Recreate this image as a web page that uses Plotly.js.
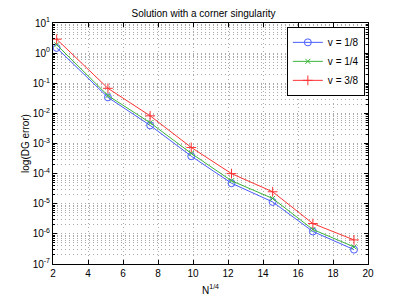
<!DOCTYPE html>
<html>
<head>
<meta charset="utf-8">
<script src="https://cdn.plot.ly/plotly-3.0.1.min.js"></script>
<style>html,body{margin:0;padding:0;background:#fff;}</style>
</head>
<body>
<div id="chart" style="width:407px;height:306px;"></div>
<script>
var xVals = [2.21, 5.14, 7.55, 9.9, 12.2, 14.55, 16.85, 19.2];
var errNu18 = [1.49, 0.034, 0.0040, 3.8e-4, 4.8e-5, 1.15e-5, 1.2e-6, 3.0e-7];
var errNu14 = [1.9, 0.039, 0.0049, 4.7e-4, 5.8e-5, 1.5e-5, 1.4e-6, 3.7e-7];
var errNu38 = [2.9, 0.068, 0.0083, 7.4e-4, 1.0e-4, 2.5e-5, 2.2e-6, 6.3e-7];
var seriesNames = ['v = 1/8', 'v = 1/4', 'v = 3/8'];
var xTicks = [2, 4, 6, 8, 10, 12, 14, 16, 18, 20];
var yExponents = [-7, -6, -5, -4, -3, -2, -1, 0, 1];

var font = {family: 'Liberation Sans, Arial, sans-serif', size: 10, color: '#000'};

var traces = [
  {x: xVals, y: errNu18, name: seriesNames[0], mode: 'lines+markers',
   line: {color: '#4a5cff', width: 1},
   marker: {symbol: 'circle-open', size: 7, color: '#4a5cff', line: {width: 1}}},
  {x: xVals, y: errNu14, name: seriesNames[1], mode: 'lines+markers',
   line: {color: '#3cb43c', width: 1},
   marker: {symbol: 'x-thin-open', size: 5, color: '#3cb43c', line: {width: 1, color: '#3cb43c'}}},
  {x: xVals, y: errNu38, name: seriesNames[2], mode: 'lines+markers',
   line: {color: '#ff3333', width: 1},
   marker: {symbol: 'cross-thin-open', size: 7, color: '#ff3333', line: {width: 1, color: '#ff3333'}}}
];

var layout = {
  width: 407, height: 306,
  margin: {l: 53, r: 39, t: 23, b: 35},
  paper_bgcolor: '#fff', plot_bgcolor: '#fff',
  font: font,
  showlegend: true,
  title: {text: 'Solution with a corner singularity', font: {family: font.family, size: 10, color: '#000'}, x: 0.5, xanchor: 'center', y: 0.955, yanchor: 'middle', yref: 'container'},
  xaxis: {
    range: [2, 20], tickvals: xTicks, ticktext: xTicks.map(String),
    ticks: 'inside', ticklen: 4, tickcolor: '#000', tickwidth: 1,
    showline: true, linecolor: '#000', linewidth: 1, mirror: 'ticks',
    showgrid: true, gridcolor: '#aaa', griddash: '1px,3px', gridwidth: 1,
    zeroline: false, tickfont: font, automargin: true,
    title: {text: 'N<sup>1/4</sup>', font: font, standoff: 8}
  },
  yaxis: {
    type: 'log', range: [-7, 1],
    tickvals: yExponents.map(function (e) { return Math.pow(10, e); }),
    ticktext: yExponents.map(function (e) { return '10<sup>' + e + '</sup>'; }),
    ticks: 'inside', ticklen: 4, tickcolor: '#000', tickwidth: 1,
    showline: true, linecolor: '#000', linewidth: 1, mirror: 'ticks',
    showgrid: true, gridcolor: '#aaa', griddash: '1px,3px', gridwidth: 1,
    minor: {dtick: 'D1', showgrid: true, gridcolor: '#aaa', griddash: '1px,3px', gridwidth: 1, ticks: 'inside', ticklen: 2, tickcolor: '#000'},
    zeroline: false, tickfont: font, automargin: true,
    title: {text: 'log(DG error)', font: font, standoff: 1}
  },
  legend: {
    x: 0.99, xanchor: 'right', y: 0.984, yanchor: 'top',
    bgcolor: '#fff', bordercolor: '#000', borderwidth: 1,
    font: font, tracegroupgap: 0, itemwidth: 30
  }
};

Plotly.newPlot('chart', traces, layout, {displayModeBar: false, staticPlot: true});
</script>
</body>
</html>
